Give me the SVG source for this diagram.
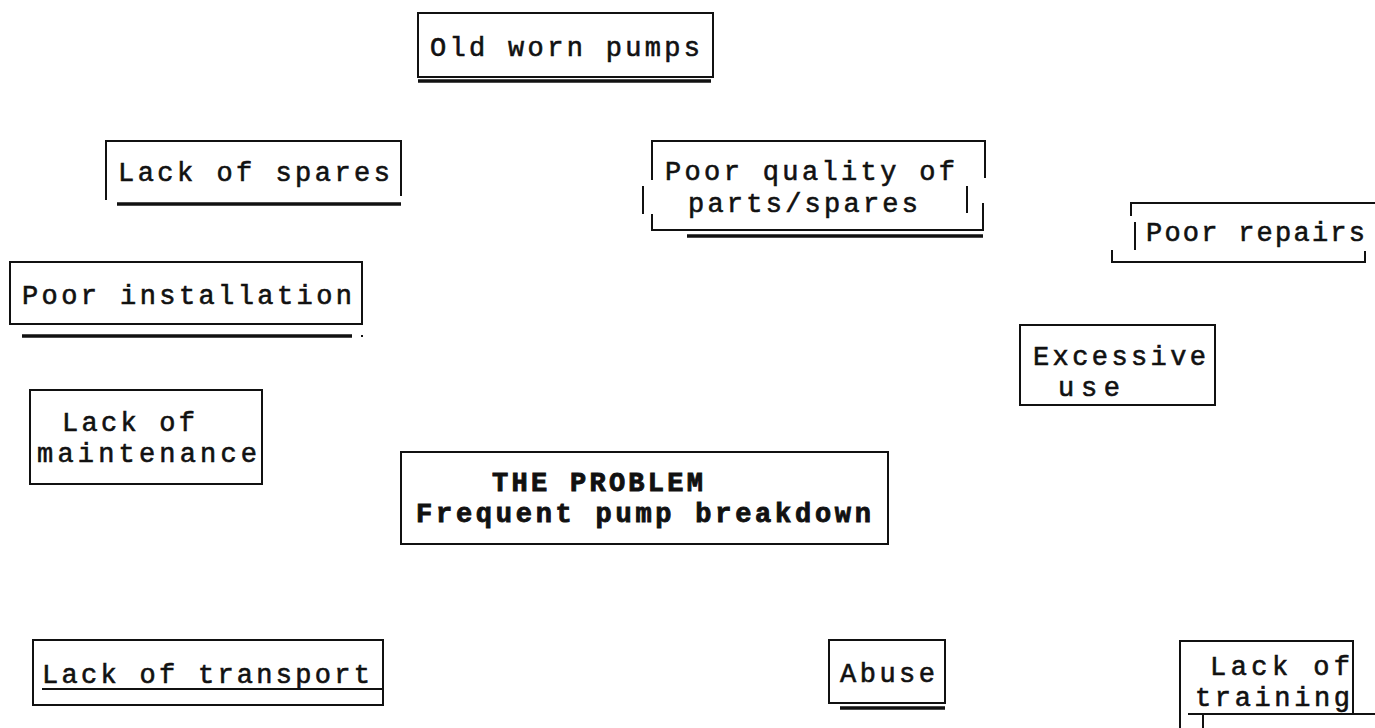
<svg xmlns="http://www.w3.org/2000/svg" width="1375" height="728" viewBox="0 0 1375 728">
<style>
  .b { fill: none; stroke: #111; stroke-width: 2; }
  .u { fill: none; stroke: #111; stroke-width: 3.5; }
  .t { font-family: "Liberation Mono", "Courier New", monospace; font-size: 27px; fill: #111; stroke: #111; stroke-width: 0.6; }
  .tb { font-weight: bold; stroke-width: 0.9; }
</style>
<rect width="1375" height="728" fill="#fff"/>
<g id="connectors"/>
<g id="old-worn-pumps">
  <rect class="b" x="418" y="13" width="295" height="64"/>
  <line class="u" x1="418" y1="81" x2="711" y2="81"/>
  <text class="t" x="430" y="56" textLength="270" lengthAdjust="spacing">Old worn pumps</text>
</g>
<g id="lack-of-spares">
  <path class="b" d="M106,200 V141 H401 V196"/>
  <line class="u" x1="117" y1="204" x2="401" y2="204"/>
  <text class="t" x="118" y="181" textLength="272" lengthAdjust="spacing">Lack of spares</text>
</g>
<g id="poor-quality">
  <path class="b" d="M652,180 V141 H985 V178"/>
  <path class="b" d="M643,186 V214 M967,186 V213"/>
  <path class="b" d="M652,214 V230 H983 V203"/>
  <line class="u" x1="687" y1="236" x2="983" y2="236"/>
  <text class="t" x="665" y="180" textLength="290" lengthAdjust="spacing">Poor quality of</text>
  <text class="t" x="688" y="212" textLength="230" lengthAdjust="spacing">parts/spares</text>
</g>
<g id="poor-repairs">
  <path class="b" d="M1131,216 V203 H1375"/>
  <path class="b" d="M1135,222 V250"/>
  <path class="b" d="M1112,250 V262 H1365 V251"/>
  <text class="t" x="1146" y="241" textLength="219" lengthAdjust="spacing">Poor repairs</text>
</g>
<g id="poor-installation">
  <rect class="b" x="10" y="262" width="352" height="62"/>
  <line class="u" x1="22" y1="336" x2="352" y2="336"/>
  <rect x="361" y="335" width="2" height="2" fill="#111"/>
  <text class="t" x="22" y="304" textLength="330" lengthAdjust="spacing">Poor installation</text>
</g>
<g id="excessive-use">
  <rect class="b" x="1020" y="325" width="195" height="80"/>
  <text class="t" x="1033" y="365" textLength="173" lengthAdjust="spacing">Excessive</text>
  <text class="t" x="1058" y="396" textLength="62" lengthAdjust="spacing">use</text>
</g>
<g id="lack-of-maintenance">
  <rect class="b" x="30" y="390" width="232" height="94"/>
  <text class="t" x="62" y="431" textLength="133" lengthAdjust="spacing">Lack of</text>
  <text class="t" x="37" y="462" textLength="220" lengthAdjust="spacing">maintenance</text>
</g>
<g id="the-problem">
  <rect class="b" x="401" y="452" width="487" height="92"/>
  <text class="t tb" x="492" y="491" textLength="211" lengthAdjust="spacing">THE PROBLEM</text>
  <text class="t tb" x="416" y="522" textLength="455" lengthAdjust="spacing">Frequent pump breakdown</text>
</g>
<g id="lack-of-transport">
  <rect class="b" x="33" y="640" width="350" height="65"/>
  <line class="b" x1="42" y1="689" x2="382" y2="689"/>
  <text class="t" x="42" y="683" textLength="328" lengthAdjust="spacing">Lack of transport</text>
</g>
<g id="abuse">
  <rect class="b" x="829" y="640" width="116" height="63"/>
  <line class="u" x1="840" y1="708" x2="945" y2="708"/>
  <text class="t" x="840" y="682" textLength="95" lengthAdjust="spacing">Abuse</text>
</g>
<g id="lack-of-training">
  <path class="b" d="M1180,728 V641 H1353 V714"/>
  <path class="b" d="M1188,714 H1375 M1203,714 V728"/>
  <text class="t" x="1210" y="675" textLength="140" lengthAdjust="spacing">Lack of</text>
  <text class="t" x="1195" y="706" textLength="155" lengthAdjust="spacing">training</text>
</g>
</svg>
